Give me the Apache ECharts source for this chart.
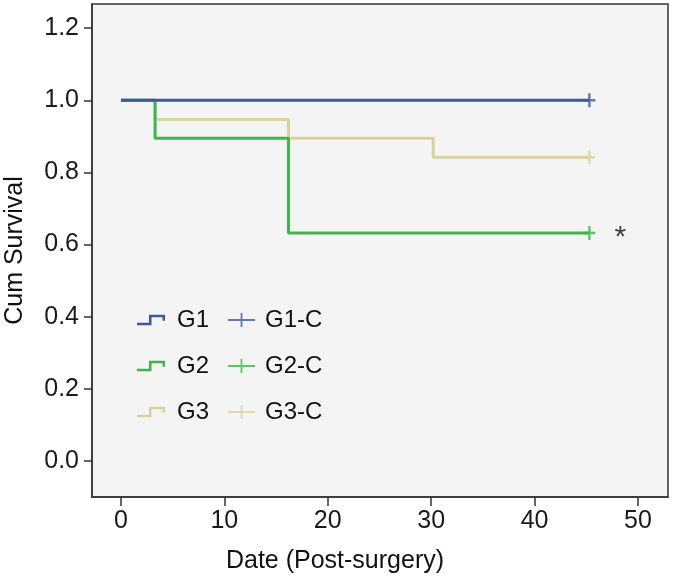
<!DOCTYPE html>
<html>
<head>
<meta charset="utf-8">
<script src="https://cdn.jsdelivr.net/npm/echarts@6/dist/echarts.min.js"></script>
<style>
html,body{margin:0;padding:0;background:#fff;}
#chart{width:675px;height:580px;}
</style>
</head>
<body>
<div id="chart"></div>
<script>
// Kaplan-Meier step data (time, cumulative survival)
const g1Times = [0, 45.3];
const g1Surv  = [1.0, 1.0];
const g2Times = [0, 3.3, 16.2, 45.3];
const g2Surv  = [1.0, 0.895, 0.632, 0.632];
const g3Times = [0, 3.3, 16.2, 30.2, 45.3];
const g3Surv  = [1.0, 0.947, 0.895, 0.842, 0.842];
// censored points
const g1Censor = [[45.3, 1.0]];
const g2Censor = [[45.3, 0.632]];
const g3Censor = [[45.3, 0.842]];
// significance marker
const sigMark = [[48.3, 0.632]];
const xTicks = [0, 10, 20, 30, 40, 50];
const yTicks = [0.0, 0.2, 0.4, 0.6, 0.8, 1.0, 1.2];

const colors = { G1: '#3F57A3', G2: '#3DB54B', G3: '#D8D29E' };
const pair = (t, s) => t.map((v, i) => [v, s[i]]);

const stepIcon = 'path://M0,8 L12,8 L12,0 L28,0 L28,6 L25.5,6 L25.5,2.5 L14.5,2.5 L14.5,10.5 L0,10.5 Z';
const plusIcon = 'path://M0,6.1 L12.6,6.1 L12.6,0 L14.4,0 L14.4,6.1 L27,6.1 L27,7.9 L14.4,7.9 L14.4,14 L12.6,14 L12.6,7.9 L0,7.9 Z';
const plusSym = 'path://M0,5.8 L4.8,5.8 L4.8,0 L7.2,0 L7.2,5.8 L12,5.8 L12,8.2 L7.2,8.2 L7.2,14 L4.8,14 L4.8,8.2 L0,8.2 Z';

const font = 'Liberation Sans, Arial, sans-serif';
const chart = echarts.init(document.getElementById('chart'));

function km(name, t, s) {
  return {
    name, type: 'line', step: 'end', data: pair(t, s), showSymbol: false, symbol: 'none',
    lineStyle: { color: colors[name], width: 3 }, itemStyle: { color: colors[name] },
    animation: false
  };
}
function cens(name, base, d) {
  return {
    name, type: 'scatter', data: d, symbol: plusSym, symbolSize: [12, 14],
    itemStyle: { color: colors[base] }, animation: false, z: 5
  };
}

chart.setOption({
  backgroundColor: '#ffffff',
  textStyle: { fontFamily: font },
  grid: {
    left: 92, right: 7, top: 4, bottom: 83, show: true, containLabel: false,
    outerBoundsMode: 'none',
    backgroundColor: '#f4f4f4', borderColor: '#333', borderWidth: 1.5
  },
  legend: [
    {
      orient: 'vertical', left: 137, top: 308, itemGap: 22, padding: 0,
      itemWidth: 28, itemHeight: 11, selectedMode: false,
      textStyle: { fontSize: 24, color: '#111', fontFamily: font, padding: [0, 0, 0, 7] },
      data: [
        { name: 'G1', icon: stepIcon },
        { name: 'G2', icon: stepIcon },
        { name: 'G3', icon: stepIcon }
      ]
    },
    {
      orient: 'vertical', left: 228, top: 308, itemGap: 22, padding: 0,
      itemWidth: 27, itemHeight: 14, selectedMode: false,
      textStyle: { fontSize: 24, color: '#111', fontFamily: font, padding: [0, 0, 0, 5] },
      data: [
        { name: 'G1-C', icon: plusIcon },
        { name: 'G2-C', icon: plusIcon },
        { name: 'G3-C', icon: plusIcon }
      ]
    }
  ],
  xAxis: {
    type: 'value', min: -2.8, max: 52.9,
    name: 'Date (Post-surgery)', nameLocation: 'middle', nameGap: 52,
    nameTextStyle: { fontSize: 25, color: '#111', fontFamily: font, padding: [0, 90, 0, 0] },
    axisLine: { show: true, onZero: false, lineStyle: { color: '#333', width: 1.5 } },
    axisTick: { show: true, length: 9, customValues: xTicks, lineStyle: { color: '#333', width: 1.5 } },
    axisLabel: { customValues: xTicks, fontSize: 25, color: '#1a1a1a', margin: 12, fontFamily: font },
    splitLine: { show: false }
  },
  yAxis: {
    type: 'value', min: -0.1, max: 1.267,
    name: 'Cum Survival', nameLocation: 'middle', nameGap: 64,
    nameTextStyle: { fontSize: 25, color: '#111', fontFamily: font },
    axisLine: { show: true, onZero: false, lineStyle: { color: '#333', width: 1.5 } },
    axisTick: { show: true, length: 8, customValues: yTicks, lineStyle: { color: '#333', width: 1.5 } },
    axisLabel: { customValues: yTicks, fontSize: 25, color: '#1a1a1a', margin: 13, fontFamily: font,
      formatter: v => v.toFixed(1) },
    splitLine: { show: false }
  },
  series: [
    km('G3', g3Times, g3Surv),
    km('G2', g2Times, g2Surv),
    km('G1', g1Times, g1Surv),
    cens('G1-C', 'G1', g1Censor),
    cens('G2-C', 'G2', g2Censor),
    cens('G3-C', 'G3', g3Censor),
    {
      name: 'sig', type: 'scatter', data: sigMark, symbolSize: 1,
      itemStyle: { color: 'rgba(0,0,0,0)' }, animation: false,
      label: { show: true, position: 'inside', formatter: '*', fontSize: 30, color: '#111',
        fontFamily: font, offset: [0, 5] }
    }
  ]
});
</script>
</body>
</html>
